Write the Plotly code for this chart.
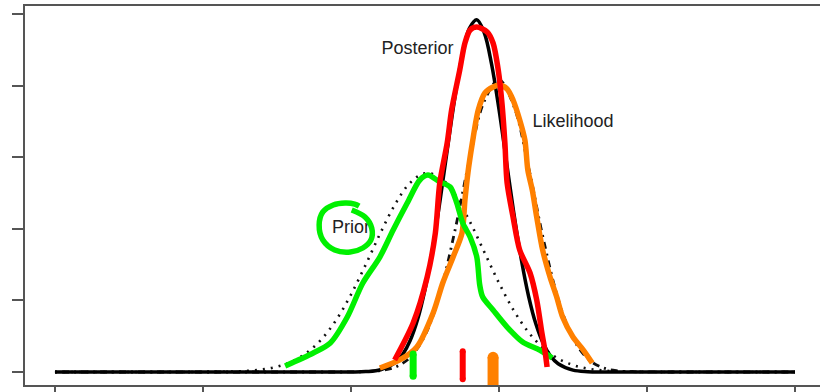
import plotly.graph_objects as go

# ---- black reference curves ----
prior_x = [0.00, 0.16, 0.20, 0.22, 0.24, 0.26, 0.28, 0.30, 0.32, 0.34, 0.36, 0.38, 0.40, 0.42,
           0.44, 0.46, 0.48, 0.50, 0.52, 0.54, 0.56, 0.58, 0.60, 0.62, 0.64, 0.66, 0.68, 0.70,
           0.72, 0.74, 0.76, 0.78, 0.80, 0.84, 1.00]
prior_y = [0, 0, 0.001, 0.002, 0.006, 0.015, 0.035, 0.074, 0.145, 0.266, 0.455, 0.726, 1.082, 1.501,
           1.945, 2.348, 2.644, 2.776, 2.719, 2.483, 2.114, 1.679, 1.244, 0.859, 0.553, 0.332, 0.186, 0.097,
           0.047, 0.022, 0.009, 0.004, 0.001, 0, 0]

lik_x = [0.00, 0.36, 0.40, 0.42, 0.44, 0.46, 0.48, 0.50, 0.52, 0.54, 0.56, 0.58, 0.60, 0.62,
         0.64, 0.66, 0.68, 0.70, 0.72, 0.74, 0.76, 0.78, 0.80, 0.84, 1.00]
lik_y = [0, 0, 0.001, 0.005, 0.019, 0.068, 0.204, 0.512, 1.089, 1.953, 2.957, 3.780, 4.080, 3.716,
         2.858, 1.856, 1.018, 0.471, 0.184, 0.061, 0.017, 0.004, 0.001, 0, 0]

post_x = [0.00, 0.36, 0.40, 0.42, 0.44, 0.46, 0.47, 0.48, 0.49, 0.50, 0.51, 0.52, 0.53, 0.54, 0.55,
          0.56, 0.57, 0.58, 0.59, 0.60, 0.61, 0.62, 0.63, 0.64, 0.65, 0.66, 0.67, 0.68, 0.70, 0.72,
          0.74, 0.78, 1.00]
post_y = [0, 0, 0.001, 0.006, 0.031, 0.132, 0.248, 0.440, 0.733, 1.152, 1.703, 2.367, 3.095, 3.808, 4.407,
          4.800, 4.920, 4.742, 4.300, 3.670, 2.948, 2.226, 1.583, 1.058, 0.666, 0.394, 0.219, 0.115, 0.026, 0.005,
          0.001, 0, 0]

# ---- curve labels ----
label_text = ["Posterior", "Likelihood", "Prior"]
label_x = [0.49, 0.70, 0.40]
label_y = [4.50, 3.49, 2.00]

# ---- hand-drawn strokes ----
green_x = [0.311, 0.349, 0.372, 0.395, 0.416, 0.439, 0.457, 0.476, 0.493, 0.504, 0.520, 0.534, 0.543,
           0.551, 0.561, 0.570, 0.574, 0.578, 0.592, 0.611, 0.632, 0.655, 0.672]
green_y = [0.084, 0.265, 0.405, 0.768, 1.243, 1.606, 1.983, 2.360, 2.682, 2.751, 2.654, 2.584, 2.360,
           2.081, 1.885, 1.606, 1.215, 1.047, 0.866, 0.628, 0.419, 0.307, 0.196]

loop_x = [0.401, 0.419, 0.428, 0.427, 0.416, 0.399, 0.378, 0.362, 0.357, 0.362, 0.376, 0.392, 0.405, 0.411]
loop_y = [2.263, 2.165, 2.011, 1.844, 1.732, 1.676, 1.704, 1.844, 2.053, 2.235, 2.332, 2.360, 2.346, 2.318]

red_x = [0.459, 0.484, 0.503, 0.514, 0.520, 0.530, 0.536, 0.547, 0.554, 0.561, 0.570, 0.584, 0.592,
         0.599, 0.604, 0.608, 0.611, 0.619, 0.628, 0.642, 0.651, 0.658, 0.662, 0.665]
red_y = [0.168, 0.684, 1.327, 1.941, 2.640, 3.198, 3.659, 4.218, 4.595, 4.777, 4.818, 4.749, 4.595,
         4.218, 3.757, 3.198, 2.640, 2.165, 1.704, 1.383, 1.006, 0.545, 0.307, 0.070]

orange_x = [0.439, 0.466, 0.489, 0.511, 0.524, 0.538, 0.550, 0.554, 0.558, 0.564, 0.572, 0.581, 0.592,
            0.601, 0.611, 0.619, 0.628, 0.635, 0.639, 0.645, 0.651, 0.659, 0.669, 0.678, 0.686, 0.700,
            0.714, 0.726]
orange_y = [0.056, 0.168, 0.349, 0.824, 1.243, 1.606, 1.941, 2.402, 2.779, 3.198, 3.659, 3.897, 3.980,
            4.008, 3.953, 3.799, 3.520, 3.240, 2.821, 2.542, 2.165, 1.704, 1.327, 1.047, 0.768, 0.489,
            0.307, 0.126]

tick_marks_x = {"green": [0.484, 0.484], "red": [0.551, 0.551], "orange": [0.592, 0.592]}
tick_marks_y = {"green": [0.250, -0.060], "red": [0.290, -0.100], "orange": [0.205, -0.190]}

GREEN = "#00f000"
RED = "#ff0000"
ORANGE = "#ff8000"

fig = go.Figure()

fig.add_trace(go.Scatter(x=prior_x, y=prior_y, mode="lines",
                         line=dict(color="#111", width=2.6, dash="2px,6px", shape="spline")))
fig.add_trace(go.Scatter(x=lik_x, y=lik_y, mode="lines",
                         line=dict(color="#111", width=2.8, dash="2px,5px,7px,5px", shape="spline")))
fig.add_trace(go.Scatter(x=post_x, y=post_y, mode="lines",
                         line=dict(color="#000", width=3.5, shape="spline")))

fig.add_trace(go.Scatter(x=label_x, y=label_y, mode="text", text=label_text,
                         textfont=dict(family="Liberation Sans, Arial, sans-serif", size=18, color="#222"),
                         cliponaxis=False))

fig.add_trace(go.Scatter(x=orange_x, y=orange_y, mode="lines",
                         line=dict(color=ORANGE, width=5.5, shape="spline", smoothing=0.8)))
fig.add_trace(go.Scatter(x=green_x, y=green_y, mode="lines",
                         line=dict(color=GREEN, width=5.5, shape="spline", smoothing=0.8)))
fig.add_trace(go.Scatter(x=loop_x, y=loop_y, mode="lines",
                         line=dict(color=GREEN, width=5.5, shape="spline", smoothing=1.0)))
fig.add_trace(go.Scatter(x=red_x, y=red_y, mode="lines",
                         line=dict(color=RED, width=5.5, shape="spline", smoothing=0.8)))

widths = {"green": 7, "red": 6, "orange": 11}
cols = {"green": GREEN, "red": RED, "orange": ORANGE}
for k in ["green", "red", "orange"]:
    fig.add_trace(go.Scatter(x=tick_marks_x[k], y=tick_marks_y[k], mode="lines+markers",
                             line=dict(color=cols[k], width=widths[k]),
                             marker=dict(color=cols[k], size=widths[k], line=dict(width=0))))

fig.update_layout(
    width=820, height=392,
    margin=dict(l=25, r=0, t=6, b=7),
    paper_bgcolor="white", plot_bgcolor="white",
    showlegend=False,
    xaxis=dict(range=[-0.0405, 1.0338], tickvals=[0, 0.2, 0.4, 0.6, 0.8, 1.0],
               showticklabels=False, ticks="outside", ticklen=8, tickwidth=1.5, tickcolor="#555",
               showline=True, linecolor="#555", linewidth=2, mirror=True,
               showgrid=False, zeroline=False),
    yaxis=dict(range=[-0.1816, 5.112], tickvals=[0, 1, 2, 3, 4, 5],
               showticklabels=False, ticks="outside", ticklen=11, tickwidth=1.5, tickcolor="#555",
               showline=True, linecolor="#555", linewidth=2, mirror=False,
               showgrid=False, zeroline=False),
)

fig.write_html("out.html", config={"displayModeBar": False},
               post_script="document.body.style.margin='0';document.body.style.overflow='hidden';")
